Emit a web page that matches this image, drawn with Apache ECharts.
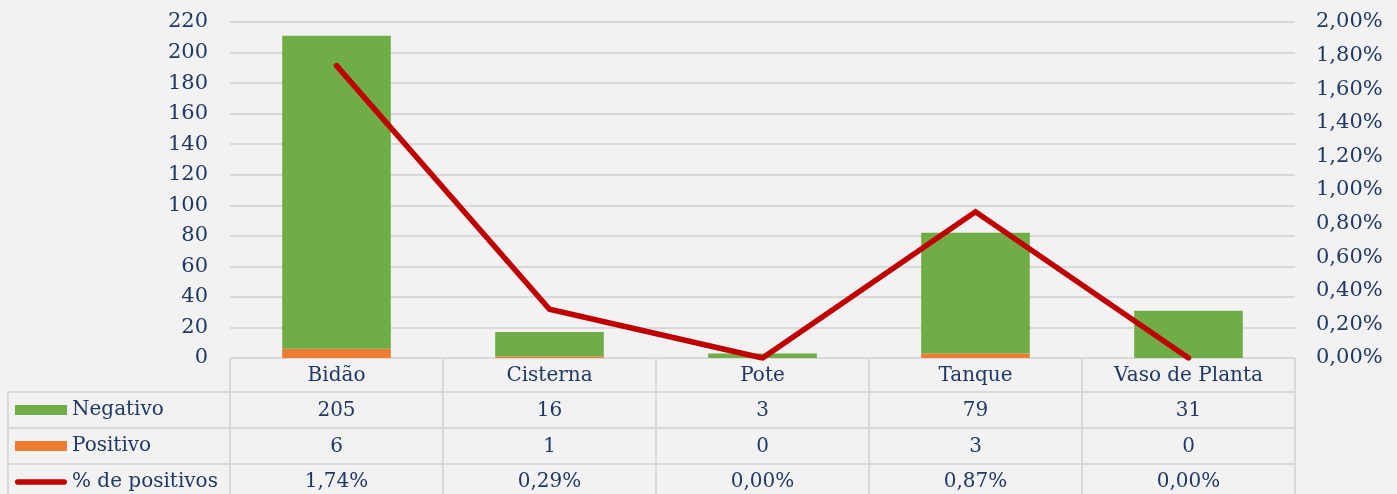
<!DOCTYPE html>
<html>
<head>
<meta charset="utf-8">
<script src="https://cdn.jsdelivr.net/npm/echarts@6/dist/echarts.min.js"></script>
<style>
html,body{margin:0;padding:0;background:#F2F2F2;}
#c{width:1397px;height:494px;}
</style>
</head>
<body>
<div id="c"></div>
<script>
const categories = ['Bidão', 'Cisterna', 'Pote', 'Tanque', 'Vaso de Planta'];
const negativo = [205, 16, 3, 79, 31];
const positivo = [6, 1, 0, 3, 0];
const pctPositivos = [1.74, 0.29, 0.00, 0.87, 0.00];
const leftTicks = {min: 0, max: 220, interval: 20};
const rightTicks = {min: 0, max: 2, interval: 0.2};

const FONT = 'DejaVu Serif';
const TXT = '#1F3864';
const LINEC = '#D9D9D9';
const fmtPct = v => v.toFixed(2).replace('.', ',') + '%';

const chart = echarts.init(document.getElementById('c'));

// table border lines (decoration)
const gL = 230, gR = 1295, gB = 358;
const colW = (gR - gL) / categories.length;
const rowYs = [392, 428, 464];
const graphics = [];
rowYs.forEach(y => graphics.push({type:'line', shape:{x1:8, y1:y, x2:gR, y2:y}, style:{stroke:LINEC, lineWidth:2}, silent:true}));
for (let i = 0; i <= categories.length; i++) {
  const x = Math.round(gL + i * colW);
  graphics.push({type:'line', shape:{x1:x, y1:gB, x2:x, y2:494}, style:{stroke:LINEC, lineWidth:2}, silent:true});
}
graphics.push({type:'line', shape:{x1:8, y1:392, x2:8, y2:494}, style:{stroke:LINEC, lineWidth:2}, silent:true});

chart.setOption({
  backgroundColor: '#F2F2F2',
  animation: false,
  textStyle: {fontFamily: FONT, color: TXT},
  grid: {left: gL, right: 1397 - gR, top: 22, bottom: 494 - gB, outerBoundsMode: 'none', containLabel: false},
  legend: {
    orient: 'vertical', left: 15, top: 400, padding: 0, height: 120,
    itemWidth: 52, itemHeight: 10, itemGap: 16, symbolKeepAspect: true,
    textStyle: {fontFamily: FONT, color: TXT, fontSize: 20, lineHeight: 20},
    data: [
      {name: 'Negativo', icon: 'rect'},
      {name: 'Positivo', icon: 'rect'},
      {name: '% de positivos', icon: 'path://M3,0 L53,0 A3,3 0 0 1 53,6 L3,6 A3,3 0 0 1 3,0 Z'}
    ]
  },
  xAxis: {
    type: 'category', data: categories,
    axisLine: {show: false}, axisTick: {show: false},
    axisLabel: {
      margin: 0, fontFamily: FONT, color: TXT, fontSize: 20, lineHeight: 35.5,
      interval: 0,
      formatter: (v, i) => [v, String(negativo[i]), String(positivo[i]), fmtPct(pctPositivos[i])].join('\n')
    }
  },
  yAxis: [
    {
      type: 'value', min: leftTicks.min, max: leftTicks.max, interval: leftTicks.interval,
      axisLine: {show: false}, axisTick: {show: false},
      axisLabel: {margin: 22, fontFamily: FONT, color: TXT, fontSize: 21},
      splitLine: {lineStyle: {color: LINEC, width: 2}}
    },
    {
      type: 'value', min: rightTicks.min, max: rightTicks.max, interval: rightTicks.interval,
      axisLine: {show: false}, axisTick: {show: false},
      axisLabel: {margin: 21, fontFamily: FONT, color: TXT, fontSize: 21, formatter: v => fmtPct(v)},
      splitLine: {show: false}
    }
  ],
  series: [
    {name: 'Positivo', type: 'bar', stack: 's', data: positivo, barWidth: '51%', itemStyle: {color: '#ED7D31'}},
    {name: 'Negativo', type: 'bar', stack: 's', data: negativo, barWidth: '51%', itemStyle: {color: '#70AD47'}},
    {name: '% de positivos', type: 'line', yAxisIndex: 1, data: pctPositivos, symbol: 'none',
     lineStyle: {color: '#C00000', width: 5.5, cap: 'round', join: 'miter'}, itemStyle: {color: '#C00000'}, z: 5}
  ],
  graphic: graphics
});
</script>
</body>
</html>
